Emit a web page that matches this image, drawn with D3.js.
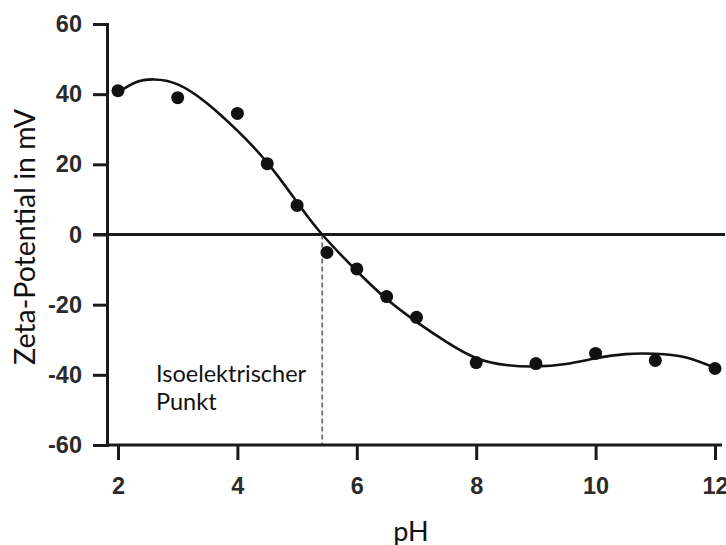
<!DOCTYPE html>
<html>
    <head>
        <meta charset="utf-8">
        <script src="https://d3js.org/d3.v7.min.js"></script>
        <style type="text/css">
            html, body {
                margin: 0;
                padding: 0;
                background: #fff;
            }
            svg {
                display: block;
            }
        </style>
    </head>
    <body>
        <div id="chart"></div>
        <script>
            // measured points (pH, zeta potential in mV)
            var phValues = [2, 3, 4, 4.5, 5, 5.5, 6, 6.5, 7, 8, 9, 10, 11, 12];
            var zetaValues = [41, 39, 34.5, 20.2, 8.3, -5.1, -9.8, -17.7, -23.6, -36.5, -36.8, -33.9, -35.9, -38.2];

            // fitted curve
            var fitPh = [2, 2.3, 2.6, 3, 3.5, 4, 4.5, 5, 5.42, 6, 6.5, 7, 7.5, 8, 8.5, 9, 9.5, 10, 10.5, 11, 11.5, 12];
            var fitZeta = [40.5, 43.4, 44.2, 42.8, 37.3, 29.6, 20.5, 9.2, 0, -10.4, -18.4, -24.9, -30.6, -35.2, -37.2, -37.6, -36.9, -35.3, -34.1, -34, -35, -38];

            var isoPoint = 5.42;

            var xTicks = [2, 4, 6, 8, 10, 12];
            var yTicks = [60, 40, 20, 0, -20, -40, -60];

            var width = 726, height = 545;
            var plotLeft = 107, plotRight = 722, plotTop = 24, plotBottom = 445;

            var svg = d3.select('#chart').append('svg')
                .attr('width', width)
                .attr('height', height);

            var x = d3.scaleLinear().domain([2, 12]).range([118, 715]);
            var y = d3.scaleLinear().domain([-60, 60]).range([plotBottom, plotTop]);

            // plain hyphen for negatives, like the original
            var plain = function(d) { return String(d); };

            // zero line
            svg.append('line')
                .attr('x1', plotLeft - 14).attr('x2', 725)
                .attr('y1', y(0)).attr('y2', y(0))
                .attr('stroke', '#1a1a1a')
                .attr('stroke-width', 2.8);

            // isoelectric point marker
            svg.append('line')
                .attr('x1', x(isoPoint)).attr('x2', x(isoPoint))
                .attr('y1', y(0)).attr('y2', plotBottom)
                .attr('stroke', '#6e6e6e')
                .attr('stroke-width', 1.8)
                .attr('stroke-dasharray', '5,3');

            // y axis
            var yAxis = svg.append('g')
                .attr('transform', 'translate(' + plotLeft + ',0)')
                .call(d3.axisLeft(y).tickValues(yTicks).tickFormat(plain)
                    .tickSize(14).tickSizeOuter(0).tickPadding(11));

            // x axis (own baseline, so it can run past the first and last tick)
            var xAxis = svg.append('g')
                .attr('transform', 'translate(0,' + plotBottom + ')')
                .call(d3.axisBottom(x).tickValues(xTicks).tickFormat(plain)
                    .tickSize(15).tickSizeOuter(0).tickPadding(17));
            xAxis.select('.domain').remove();
            svg.append('line')
                .attr('x1', plotLeft).attr('x2', plotRight)
                .attr('y1', plotBottom).attr('y2', plotBottom)
                .attr('stroke', '#1a1a1a')
                .attr('stroke-width', 3);

            [yAxis, xAxis].forEach(function(g) {
                g.selectAll('path, line')
                    .attr('stroke', '#1a1a1a')
                    .attr('stroke-width', 3);
                g.selectAll('text')
                    .attr('fill', '#2b2b2b')
                    .style('font-family', '"Liberation Sans", Arial, sans-serif')
                    .style('font-weight', 'bold')
                    .style('font-size', '23.5px');
            });
            yAxis.select('.domain').attr('stroke-linecap', 'square');

            // fitted curve
            var fit = fitPh.map(function(d, i) { return [d, fitZeta[i]]; });
            svg.append('path')
                .datum(fit)
                .attr('fill', 'none')
                .attr('stroke', '#111')
                .attr('stroke-width', 2.6)
                .attr('d', d3.line()
                    .x(function(d) { return x(d[0]); })
                    .y(function(d) { return y(d[1]); })
                    .curve(d3.curveNatural));

            // measured points
            svg.selectAll('circle.pt')
                .data(phValues)
                .enter()
                .append('circle')
                .attr('class', 'pt')
                .attr('cx', function(d) { return x(d); })
                .attr('cy', function(d, i) { return y(zetaValues[i]); })
                .attr('r', 6.5)
                .attr('fill', '#111');

            // labels
            var labelFont = 'Lato, "Open Sans", sans-serif';

            svg.append('text')
                .attr('transform', 'translate(35,237) rotate(-90)')
                .attr('text-anchor', 'middle')
                .style('font-family', labelFont)
                .style('font-size', '28.5px')
                .attr('fill', '#111')
                .text('Zeta-Potential in mV');

            svg.append('text')
                .attr('x', 411)
                .attr('y', 541)
                .attr('text-anchor', 'middle')
                .style('font-family', labelFont)
                .style('font-size', '27px')
                .attr('fill', '#111')
                .text('pH');

            var note = svg.append('text')
                .style('font-family', labelFont)
                .style('font-size', '23.5px')
                .attr('fill', '#111');
            note.append('tspan').attr('x', 156).attr('y', 382).text('Isoelektrischer');
            note.append('tspan').attr('x', 156).attr('y', 410).text('Punkt');
        </script>
    </body>
</html>
